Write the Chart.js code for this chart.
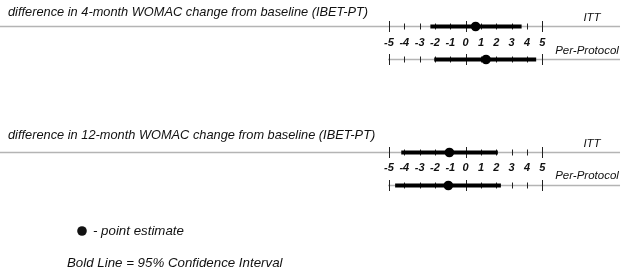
<!DOCTYPE html>
<html>
<head>
<meta charset="utf-8">
<script src="https://cdn.jsdelivr.net/npm/chart.js@4"></script>
<style>
html,body{margin:0;padding:0;background:#fff;}
#wrap{width:626px;height:274px;position:relative;}
</style>
</head>
<body>
<div id="wrap"><canvas id="c" width="626" height="274"></canvas></div>
<script>
// ---- data ----
const outcomes = [
  'difference in 4-month WOMAC change from baseline (IBET-PT)',
  'difference in 12-month WOMAC change from baseline (IBET-PT)'
];
const analyses = ['ITT', 'Per-Protocol'];
// order: 4m ITT, 4m PP, 12m ITT, 12m PP
const pointEstimates = [0.65, 1.33, -1.06, -1.13];
const ciLower = [-2.3, -2.05, -4.2, -4.6];
const ciUpper = [3.65, 4.6, 2.1, 2.3];
const tickValues = [-5, -4, -3, -2, -1, 0, 1, 2, 3, 4, 5];
const tickLabels = ['-5', '-4', '-3', '-2', '-1', '0', '1', '2', '3', '4', '5'];
const legendPointText = '- point estimate';
const legendLineText = 'Bold Line = 95% Confidence Interval';

// ---- layout (not data) ----
const X_MIN = -30.375, X_MAX = 10.46, LINE_END = 10.07;
const rowY = [26.5, 59.5, 152.5, 185.5];
const titleY = [12.5, 135];
const tickLabelY = [43, 168];
const analysisLabelY = [[18, 51], [144, 176]];
const FONT = '"Liberation Sans", Arial, sans-serif';

const datasets = [];
pointEstimates.forEach((pe, i) => {
  datasets.push({
    type: 'line',
    data: [{x: ciLower[i], y: rowY[i]}, {x: ciUpper[i], y: rowY[i]}],
    borderColor: '#000',
    borderWidth: 4,
    borderCapStyle: 'butt',
    pointRadius: 0,
    fill: false,
    order: 2
  });
  datasets.push({
    type: 'scatter',
    data: [{x: pe, y: rowY[i]}],
    backgroundColor: '#000',
    borderColor: '#000',
    pointRadius: 4.8,
    borderWidth: 0,
    order: 1
  });
});

const drawPlugin = {
  id: 'forest',
  beforeDatasetsDraw(chart) {
    const ctx = chart.ctx, xs = chart.scales.x, ys = chart.scales.y;
    ctx.save();
    // baselines
    ctx.strokeStyle = '#b4b4b4';
    ctx.lineWidth = 1.3;
    rowY.forEach((ry, i) => {
      const y = ys.getPixelForValue(ry);
      const x0 = (i % 2 === 0) ? xs.getPixelForValue(X_MIN) : xs.getPixelForValue(-5) - 1;
      ctx.beginPath();
      ctx.moveTo(x0, y);
      ctx.lineTo(xs.getPixelForValue(LINE_END), y);
      ctx.stroke();
    });
    // tick marks
    ctx.strokeStyle = '#222';
    ctx.lineWidth = 1;
    rowY.forEach((ry) => {
      const y = ys.getPixelForValue(ry);
      tickValues.forEach((v) => {
        const x = Math.round(xs.getPixelForValue(v)) + 0.5;
        const h = (v % 5 === 0) ? 5.5 : 3;
        ctx.beginPath();
        ctx.moveTo(x, y - h);
        ctx.lineTo(x, y + h);
        ctx.stroke();
      });
    });
    ctx.restore();
  },
  afterDatasetsDraw(chart) {
    const ctx = chart.ctx, xs = chart.scales.x, ys = chart.scales.y;
    ctx.save();
    ctx.fillStyle = '#111';
    ctx.textBaseline = 'middle';
    // titles
    ctx.font = 'italic 12.8px ' + FONT;
    ctx.textAlign = 'left';
    outcomes.forEach((t, i) => ctx.fillText(t, 8, titleY[i]));
    // analysis labels
    ctx.font = 'italic 11.5px ' + FONT;
    ctx.textAlign = 'center';
    analysisLabelY.forEach((pair) => {
      ctx.fillText(analyses[0], 592, pair[0]);
      ctx.fillText(analyses[1], 587, pair[1]);
    });
    // tick labels
    ctx.font = 'italic bold 11px ' + FONT;
    ctx.textAlign = 'center';
    tickLabelY.forEach((ty) => {
      tickValues.forEach((v, k) => {
        ctx.fillText(tickLabels[k], xs.getPixelForValue(v), ty);
      });
    });
    // legend
    ctx.beginPath();
    ctx.arc(82, 231, 4.8, 0, Math.PI * 2);
    ctx.fill();
    ctx.font = 'italic 13.3px ' + FONT;
    ctx.textAlign = 'left';
    ctx.fillText(legendPointText, 93, 231);
    ctx.fillText(legendLineText, 67, 263);
    ctx.restore();
  }
};

new Chart(document.getElementById('c'), {
  data: { datasets },
  options: {
    responsive: false,
    animation: false,
    events: [],
    layout: { padding: 0, autoPadding: false },
    plugins: { legend: { display: false }, tooltip: { enabled: false } },
    scales: {
      x: { type: 'linear', min: X_MIN, max: X_MAX, display: false },
      y: { type: 'linear', min: 0, max: 274, reverse: true, display: false }
    },
    elements: { line: { tension: 0 } },
    clip: false
  },
  plugins: [drawPlugin]
});
</script>
</body>
</html>
